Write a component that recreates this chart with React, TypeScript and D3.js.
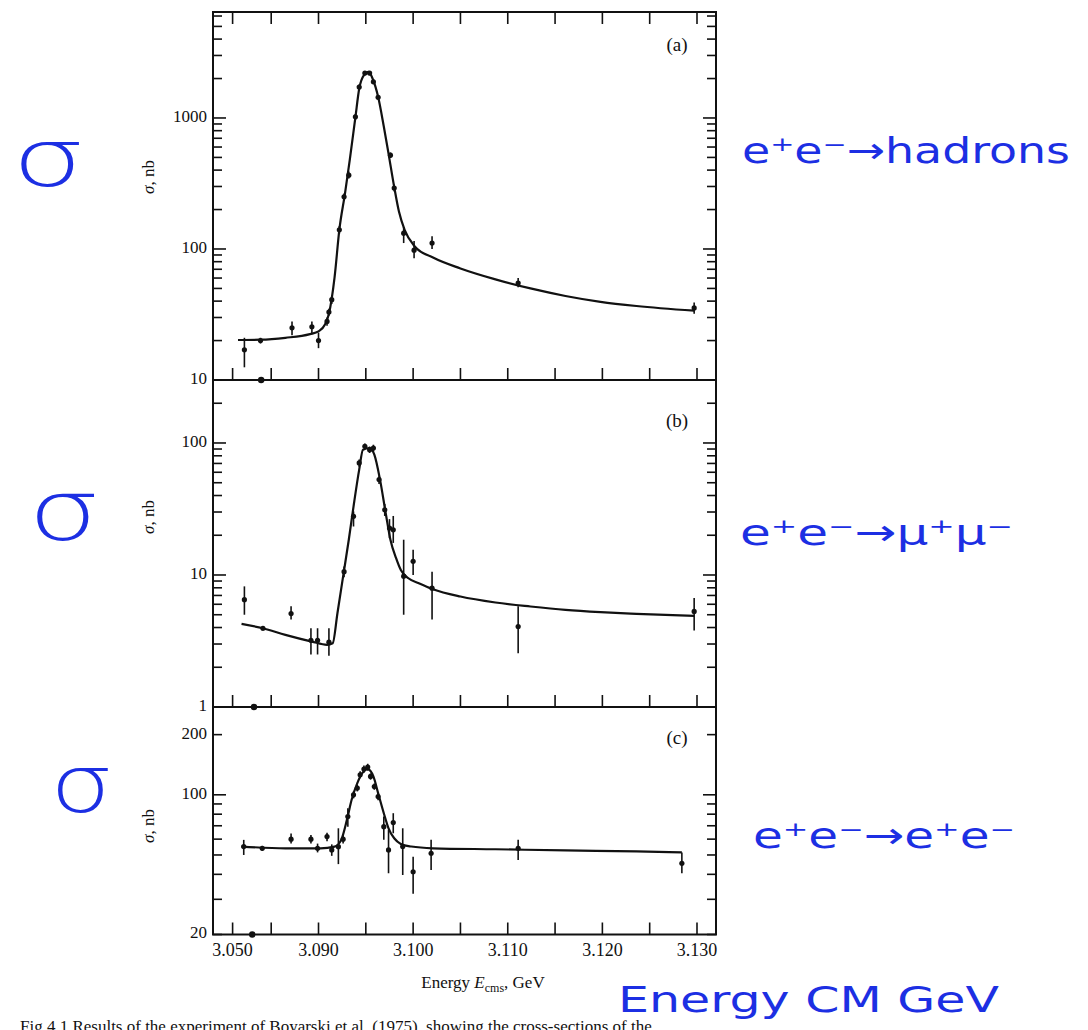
import React, { useEffect } from 'react';
import * as d3 from 'd3';

const W = 1088;
const H = 1030;

// [energy GeV, sigma nb, error low, error high]
type Pt = [number, number, number, number];
type CurvePt = [number, number];

// (a) e+e- -> hadrons
const hadronPoints: Pt[] = [
  [3.0607, 17, 12.5, 21],
  [3.0753, 20, 19, 21],
  [3.0872, 25, 22, 28],
  [3.0893, 25.5, 22.5, 28],
  [3.09, 20, 17.5, 23],
  [3.0909, 28, 26, 30],
  [3.0911, 33, 31, 35],
  [3.0914, 41, 38, 44],
  [3.0922, 140, 130, 150],
  [3.0927, 250, 235, 265],
  [3.0932, 366, 345, 390],
  [3.0939, 1020, 970, 1070],
  [3.0943, 1720, 1650, 1800],
  [3.0949, 2200, 2120, 2280],
  [3.0954, 2200, 2120, 2280],
  [3.0958, 1890, 1810, 1970],
  [3.0963, 1440, 1380, 1500],
  [3.0976, 520, 495, 545],
  [3.098, 292, 275, 310],
  [3.099, 132, 111, 147],
  [3.1001, 98, 85, 115],
  [3.102, 111, 100, 125],
  [3.1111, 55, 51, 60],
  [3.1297, 35.5, 32, 39],
];
const hadronCurve: CurvePt[] = [
  [3.0549, 20.2], [3.0753, 20.3], [3.0865, 21], [3.0891, 22.4], [3.09, 23.5],
  [3.0907, 26.6], [3.0911, 32], [3.0917, 61], [3.0922, 140], [3.0928, 266],
  [3.0933, 477], [3.0939, 1015], [3.0943, 1670], [3.0948, 2120], [3.0953, 2250],
  [3.0957, 2010], [3.0963, 1450], [3.0969, 860], [3.0974, 535], [3.098, 297],
  [3.0985, 193], [3.0991, 140], [3.1002, 104], [3.1021, 86], [3.105, 71],
  [3.1087, 58.6], [3.1124, 50], [3.1161, 43.8], [3.1198, 39.5], [3.1236, 36.7],
  [3.1297, 33.8],
];

// (b) e+e- -> mu+mu-
const muonPoints: Pt[] = [
  [3.0607, 6.5, 5.0, 8.2],
  [3.0775, 3.95, 3.8, 4.1],
  [3.0871, 5.1, 4.6, 5.8],
  [3.0892, 3.2, 2.5, 3.95],
  [3.0899, 3.2, 2.5, 3.95],
  [3.0911, 3.1, 2.45, 3.95],
  [3.0927, 10.6, 9.6, 11.6],
  [3.0937, 27.8, 23.3, 30.3],
  [3.0943, 70.6, 66, 75],
  [3.0949, 94.5, 90, 99],
  [3.0954, 89, 84, 94],
  [3.0958, 91.5, 86, 97],
  [3.0964, 52.8, 49, 56],
  [3.097, 31.2, 28, 34.5],
  [3.0975, 22.7, 19, 26.5],
  [3.0979, 22, 17.5, 28],
  [3.099, 9.8, 5.0, 18.5],
  [3.1, 12.7, 10, 15.5],
  [3.102, 7.95, 4.6, 10.6],
  [3.1111, 4.07, 2.55, 5.8],
  [3.1297, 5.3, 3.8, 6.7],
];
const muonCurve: CurvePt[] = [
  [3.0581, 4.26], [3.0775, 3.95], [3.0865, 3.52], [3.0893, 3.13], [3.0909, 2.96],
  [3.0915, 3.04], [3.092, 5.13], [3.0926, 9.75], [3.0932, 18.5], [3.0937, 33],
  [3.0943, 62.9], [3.0947, 89], [3.0954, 91.5], [3.0959, 81.6], [3.0965, 52.8],
  [3.0971, 29.5], [3.0976, 18.5], [3.0982, 13.4], [3.0987, 10.9], [3.0995, 9.45],
  [3.1006, 8.66], [3.1021, 7.8], [3.105, 6.87], [3.1087, 6.19], [3.1124, 5.77],
  [3.1161, 5.44], [3.1198, 5.23], [3.1236, 5.08], [3.1297, 4.9],
];

// (c) e+e- -> e+e-
const electronPoints: Pt[] = [
  [3.0601, 55.1, 50, 59.5],
  [3.0769, 54, 52.5, 55.5],
  [3.0871, 60, 57, 64],
  [3.0892, 60, 57, 63],
  [3.0899, 54, 51.5, 57],
  [3.0909, 61.8, 58.5, 64.5],
  [3.0914, 53, 49.5, 56.5],
  [3.0921, 55, 45, 68],
  [3.0926, 60, 57, 63],
  [3.0931, 77.9, 69.3, 85.7],
  [3.0937, 100, 96, 104],
  [3.0941, 108, 104, 112],
  [3.0944, 126, 121, 131],
  [3.0948, 134.5, 129, 140],
  [3.0952, 137.6, 132, 143],
  [3.0955, 123.6, 119, 128],
  [3.0959, 110, 106, 114],
  [3.0963, 98, 94, 102],
  [3.0969, 69.3, 59.5, 77.8],
  [3.0974, 53, 40.5, 66.8],
  [3.0979, 72.6, 64.2, 80.9],
  [3.0989, 55.1, 39.7, 68],
  [3.1, 41.2, 32, 49],
  [3.1019, 51, 42.1, 59.5],
  [3.1111, 54, 47.2, 59.5],
  [3.1284, 45.4, 40.5, 51.5],
];
const electronCurve: CurvePt[] = [
  [3.0581, 55.1], [3.0865, 54], [3.0902, 54], [3.0917, 55], [3.0924, 59.5],
  [3.093, 74.9], [3.0935, 94.4], [3.0941, 114.4], [3.0946, 128], [3.0952, 134.5],
  [3.0958, 123.6], [3.0963, 102], [3.0969, 80.9], [3.0974, 68], [3.098, 60.6],
  [3.0987, 56.8], [3.0998, 55.1], [3.1021, 54], [3.1087, 53.4], [3.1161, 52.7],
  [3.1236, 52.1], [3.1284, 51.5],
];

// points sitting on the lower frame line of each panel
const offscaleA = [3.0759];
const offscaleB = [3.0694];
const offscaleC = [3.0678];

const xTickValues = [3.05, 3.085, 3.09, 3.095, 3.1, 3.105, 3.11, 3.115, 3.12, 3.125, 3.13];
const xTickLabels = ['3.050', '', '3.090', '', '3.100', '', '3.110', '', '3.120', '', '3.130'];

const yLabelsA = [10, 100, 1000];
const yLabelsB = [1, 10, 100];
const yLabelsC = [20, 100, 200];

const FRAME_L = 213;
const FRAME_R = 716;
const SERIF = '"Liberation Serif", "Times New Roman", serif';
const HAND = '"DejaVu Sans", sans-serif';
const BLUE = '#1c2fe3';

// broken energy axis: 3.050 .. 3.085 is compressed
const x = d3.scaleLinear().domain([3.05, 3.085, 3.13]).range([232.6, 271.2, 697]);

const logTicks = (lo: number, hi: number) => {
  const out: { v: number; major: boolean }[] = [];
  for (let e = Math.floor(Math.log10(lo)); e <= Math.ceil(Math.log10(hi)); e++) {
    for (let k = 1; k <= 9; k++) {
      const v = k * Math.pow(10, e);
      if (v >= lo * 0.999 && v <= hi) out.push({ v, major: k === 1 });
    }
  }
  return out;
};

interface PanelProps {
  tag: string;
  top: number;
  bottom: number;
  domain: [number, number];
  labels: number[];
  points: Pt[];
  curve: CurvePt[];
  offscale: number[];
  topTicks: boolean;
  tagY: number;
  titleY: number;
}

const Panel: React.FC<PanelProps> = ({ tag, top, bottom, domain, labels, points, curve, offscale, topTicks, tagY, titleY }) => {
  const y = d3.scaleLog().domain(domain).range([bottom, top]);
  const line = d3.line<CurvePt>().x(d => x(d[0])).y(d => y(d[1])).curve(d3.curveMonotoneX);
  const ticks = logTicks(domain[0], domain[1]);

  return (
    <g>
      <rect x={FRAME_L} y={top} width={FRAME_R - FRAME_L} height={bottom - top} fill="none" stroke="#111" strokeWidth={2} />
      {/* y ticks, both sides, inward */}
      {ticks.map((t, i) => {
        const yy = y(t.v);
        const len = t.major ? 13 : 9;
        return (
          <g key={i} stroke="#111" strokeWidth={1.6}>
            <line x1={FRAME_L} x2={FRAME_L + len} y1={yy} y2={yy} />
            <line x1={FRAME_R} x2={FRAME_R - len} y1={yy} y2={yy} />
          </g>
        );
      })}
      {labels.map(v => (
        <text key={v} x={FRAME_L - 6} y={y(v)} textAnchor="end" dominantBaseline="middle"
          fontFamily={SERIF} fontSize={17} fill="#111">{v}</text>
      ))}
      {/* x ticks */}
      {xTickValues.map((v, i) => (
        <g key={i} stroke="#111" strokeWidth={1.6}>
          <line x1={x(v)} x2={x(v)} y1={bottom} y2={bottom - 12} />
          {topTicks && <line x1={x(v)} x2={x(v)} y1={top} y2={top + 12} />}
        </g>
      ))}
      <path d={line(curve) || ''} fill="none" stroke="#111" strokeWidth={2.2} />
      {points.map((p, i) => (
        <g key={i}>
          <line x1={x(p[0])} x2={x(p[0])} y1={y(p[2])} y2={y(p[3])} stroke="#111" strokeWidth={1.6} />
          <circle cx={x(p[0])} cy={y(p[1])} r={2.6} fill="#111" />
        </g>
      ))}
      {offscale.map((e, i) => (
        <circle key={i} cx={x(e)} cy={bottom} r={3.2} fill="#111" />
      ))}
      <text x={677} y={tagY} textAnchor="middle" dominantBaseline="middle" fontFamily={SERIF} fontSize={19} fill="#111">{tag}</text>
      <text transform={`translate(150,${titleY}) rotate(-90)`} textAnchor="middle" dominantBaseline="middle"
        fontFamily={SERIF} fontSize={17} fill="#111">
        <tspan fontStyle="italic">σ</tspan>, nb
      </text>
    </g>
  );
};

export default function App() {
  useEffect(() => {
    document.body.style.margin = '0';
    document.body.style.background = '#fff';
  }, []);

  const xAxisBottom = 934.5;

  return (
    <svg width={W} height={H} viewBox={`0 0 ${W} ${H}`} style={{ display: 'block', background: '#fff' }}>
      <rect width={W} height={H} fill="#fff" />
      <Panel tag="(a)" top={12} bottom={380} domain={[10, 6440]} labels={yLabelsA}
        points={hadronPoints} curve={hadronCurve} offscale={offscaleA} topTicks tagY={47} titleY={177} />
      <Panel tag="(b)" top={380} bottom={707} domain={[1, 300]} labels={yLabelsB}
        points={muonPoints} curve={muonCurve} offscale={offscaleB} topTicks={false} tagY={423} titleY={517} />
      <Panel tag="(c)" top={707} bottom={xAxisBottom} domain={[20, 275]} labels={yLabelsC}
        points={electronPoints} curve={electronCurve} offscale={offscaleC} topTicks={false} tagY={740} titleY={826} />

      {xTickValues.map((v, i) => xTickLabels[i] ? (
        <text key={i} x={x(v)} y={956} textAnchor="middle" fontFamily={SERIF} fontSize={18} fill="#111">{xTickLabels[i]}</text>
      ) : null)}
      <text x={483} y={988} textAnchor="middle" fontFamily={SERIF} fontSize={17} fill="#111">
        Energy <tspan fontStyle="italic">E</tspan><tspan fontSize={12} dy={4}>cms</tspan><tspan dy={-4}>, GeV</tspan>
      </text>

      <text x={20} y={1032} fontFamily={SERIF} fontSize={17} fill="#111">
        Fig 4.1  Results of the experiment of Boyarski et al. (1975), showing the cross-sections of the
      </text>

      {/* handwritten annotations */}
      <g fill={BLUE} fontFamily={HAND}>
        <text x={12} y={186} fontSize={80} fontWeight={200} textLength={73} lengthAdjust="spacingAndGlyphs">σ</text>
        <text x={28} y={540} fontSize={84} fontWeight={200} textLength={72} lengthAdjust="spacingAndGlyphs">σ</text>
        <text x={50} y={812} fontSize={80} fontWeight={200} textLength={63} lengthAdjust="spacingAndGlyphs">σ</text>
        <text x={742} y={163} fontSize={36} textLength={328} lengthAdjust="spacingAndGlyphs">e⁺e⁻→hadrons</text>
        <text x={740} y={545} fontSize={36} textLength={273} lengthAdjust="spacingAndGlyphs">e⁺e⁻→μ⁺μ⁻</text>
        <text x={753} y={848} fontSize={36} textLength={262} lengthAdjust="spacingAndGlyphs">e⁺e⁻→e⁺e⁻</text>
        <text x={618} y={1012} fontSize={36} textLength={381} lengthAdjust="spacingAndGlyphs">Energy CM GeV</text>
      </g>
    </svg>
  );
}
